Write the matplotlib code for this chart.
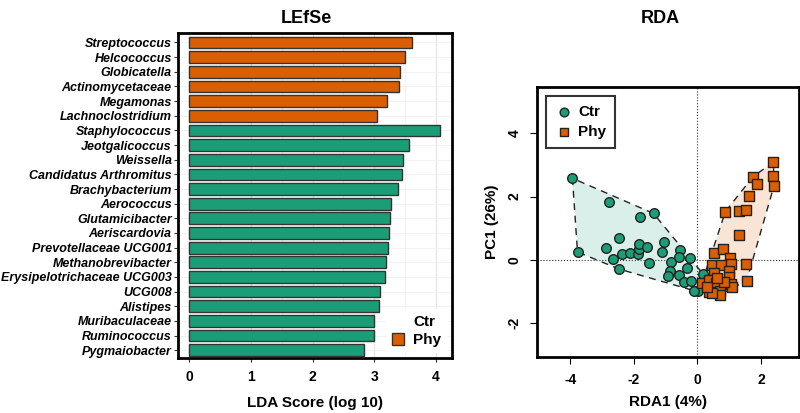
import numpy as np
import matplotlib.pyplot as plt
from matplotlib.patches import Patch

plt.rcParams['font.family'] = ['Liberation Sans', 'DejaVu Sans']

GREEN = '#1B9E77'
ORANGE = '#D95F02'

# LEfSe data (top to bottom)
taxa = ['Streptococcus', 'Helcococcus', 'Globicatella', 'Actinomycetaceae',
        'Megamonas', 'Lachnoclostridium', 'Staphylococcus', 'Jeotgalicoccus',
        'Weissella', 'Candidatus Arthromitus', 'Brachybacterium', 'Aerococcus',
        'Glutamicibacter', 'Aeriscardovia', 'Prevotellaceae UCG001',
        'Methanobrevibacter', 'Erysipelotrichaceae UCG003', 'UCG008',
        'Alistipes', 'Muribaculaceae', 'Ruminococcus', 'Pygmaiobacter']
lda = [3.61, 3.50, 3.41, 3.40, 3.20, 3.05, 4.06, 3.56, 3.46, 3.45, 3.39,
       3.27, 3.26, 3.24, 3.23, 3.19, 3.18, 3.10, 3.08, 2.99, 2.99, 2.84]
group = ['Phy'] * 6 + ['Ctr'] * 16

# RDA scores
ctr_x = [-3.93, -2.77, -1.81, -1.38, -2.45, -3.77, -2.88, -2.65, -2.37, -2.13,
         -1.86, -1.85, -1.83, -1.58, -1.06, -1.11, -1.53, -2.45, -0.82, -0.54,
         -0.57, -0.22, -0.32, -0.85, -0.92, -0.57, -0.43, -0.19, 0.03, -0.10,
         0.18, 0.40, 0.30]
ctr_y = [2.58, 1.82, 1.35, 1.47, 0.70, 0.25, 0.39, 0.03, 0.18, 0.21,
         0.18, 0.35, 0.50, 0.42, 0.57, 0.24, -0.10, -0.29, -0.07, 0.31,
         0.10, 0.05, -0.24, -0.35, -0.50, -0.47, -0.70, -0.66, -0.97, -0.97,
         -0.45, -1.05, -0.65]
phy_x = [2.39, 1.75, 2.39, 1.88, 2.41, 1.62, 0.88, 1.30, 1.53, 1.31, 0.51,
         0.81, 1.03, 0.47, 0.73, 1.07, 1.52, 1.55, 1.00, 0.52, 0.14, 0.37,
         0.58, 1.00, 1.05, 1.10, 0.37, 0.71, 0.71, 0.47, 0.84, 0.31, 0.63]
phy_y = [3.09, 2.63, 2.65, 2.40, 2.35, 2.02, 1.53, 1.55, 1.58, 0.79, 0.21,
         0.36, 0.05, -0.16, -0.16, -0.14, -0.13, -0.65, -0.34, -0.40, -0.72,
         -0.63, -0.74, -0.55, -0.76, -0.86, -1.00, -0.98, -1.10, -1.05, -0.68,
         -0.84, -0.58]


def hull(xs, ys):
    pts = sorted(set(zip(xs, ys)))

    def cross(o, a, b):
        return (a[0] - o[0]) * (b[1] - o[1]) - (a[1] - o[1]) * (b[0] - o[0])
    lower, upper = [], []
    for p in pts:
        while len(lower) >= 2 and cross(lower[-2], lower[-1], p) <= 0:
            lower.pop()
        lower.append(p)
    for p in reversed(pts):
        while len(upper) >= 2 and cross(upper[-2], upper[-1], p) <= 0:
            upper.pop()
        upper.append(p)
    h = lower[:-1] + upper[:-1]
    return np.array(h + [h[0]])


fig = plt.figure(figsize=(8, 4.13), dpi=100)

# ---- LEfSe panel
ax1 = fig.add_axes([0.2225, 0.1332, 0.3425, 0.787])
pos = np.arange(len(taxa))
colors = [ORANGE if g == 'Phy' else GREEN for g in group]
ax1.barh(pos, lda, height=0.8, color=colors, edgecolor='#333333', lw=1.0, zorder=3)
ax1.set_ylim(len(taxa) - 0.47, -0.65)
ax1.set_xlim(-0.18, 4.26)
ax1.set_yticks(pos)
ax1.set_yticklabels(taxa, fontsize=9, fontweight='bold', fontstyle='italic')
ax1.set_xticks([0, 1, 2, 3, 4])
ax1.set_xticklabels(['0', '1', '2', '3', '4'], fontsize=10, fontweight='bold')
ax1.set_xticks([0.5, 1.5, 2.5, 3.5], minor=True)
ax1.tick_params(axis='x', which='minor', length=0)
ax1.tick_params(axis='both', which='major', length=3, width=0.8, color='#333333', pad=1.5)
ax1.tick_params(axis='x', pad=6)
ax1.grid(axis='x', which='major', color='#E5E5E5', lw=0.9, zorder=0)
ax1.grid(axis='x', which='minor', color='#F0F0F0', lw=0.6, zorder=0)
ax1.grid(axis='y', color='#F0F0F0', lw=0.6, zorder=0)
for s in ax1.spines.values():
    s.set_linewidth(2)
ax1.set_xlabel('LDA Score (log 10)', fontsize=11, fontweight='bold', labelpad=8)
handles = [Patch(facecolor='white', edgecolor='none', label='Ctr'),
           Patch(facecolor=ORANGE, edgecolor='#333333', label='Phy')]
leg1 = ax1.legend(handles=handles, loc='lower right', frameon=True, framealpha=1,
                  facecolor='white', edgecolor='none', handlelength=0.8,
                  handleheight=0.8, handletextpad=0.6, labelspacing=0.25,
                  borderaxespad=0.3, prop={'weight': 'bold', 'size': 11})
leg1.get_frame().set_linewidth(0)
leg1.set_zorder(5)
fig.text(0.383, 0.975, 'LEfSe', ha='center', va='top', fontsize=13, fontweight='bold')

# ---- RDA panel
ax2 = fig.add_axes([0.671, 0.135, 0.328, 0.655])
hc = hull(ctr_x, ctr_y)
hp = hull(phy_x, phy_y)
ax2.fill(hc[:, 0], hc[:, 1], color=GREEN, alpha=0.16, lw=0, zorder=1)
ax2.fill(hp[:, 0], hp[:, 1], color=ORANGE, alpha=0.16, lw=0, zorder=1)
ax2.plot(hc[:, 0], hc[:, 1], ls=(0, (5, 4)), color='#222222', lw=1, zorder=2)
ax2.plot(hp[:, 0], hp[:, 1], ls=(0, (5, 4)), color='#222222', lw=1, zorder=2)
ax2.axhline(0, color='#333333', ls=':', lw=0.8, zorder=0)
ax2.axvline(0, color='#333333', ls=':', lw=0.8, zorder=0)
ax2.scatter(ctr_x, ctr_y, s=48, marker='o', color=GREEN, edgecolor='#222222',
            lw=1.0, zorder=3, label='Ctr')
ax2.scatter(phy_x, phy_y, s=42, marker='s', color=ORANGE, edgecolor='#222222',
            lw=1.0, zorder=4, label='Phy')
ax2.set_xlim(-5.05, 3.2)
ax2.set_ylim(-3.07, 5.47)
ax2.set_xticks([-4, -2, 0, 2])
ax2.set_yticks([-2, 0, 2, 4])
ax2.set_xticklabels(['-4', '-2', '0', '2'], fontsize=10, fontweight='bold')
ax2.set_yticklabels(['-2', '0', '2', '4'], fontsize=10, fontweight='bold',
                    rotation=90, va='center')
ax2.tick_params(axis='both', length=5, width=0.8, pad=6)
for s in ax2.spines.values():
    s.set_linewidth(2)
ax2.set_xlabel('RDA1 (4%)', fontsize=11, fontweight='bold', labelpad=6)
ax2.set_ylabel('PC1 (26%)', fontsize=11, fontweight='bold', labelpad=6)
leg2 = ax2.legend(loc='upper left', frameon=True, fancybox=False, edgecolor='black',
                  handletextpad=0.3, labelspacing=0.4, borderpad=0.6,
                  handlelength=1.2, markerscale=0.9, borderaxespad=0.6,
                  prop={'weight': 'bold', 'size': 11})
leg2.get_frame().set_linewidth(1.5)
fig.text(0.825, 0.975, 'RDA', ha='center', va='top', fontsize=13, fontweight='bold')

fig.savefig('out.png', dpi=100)
